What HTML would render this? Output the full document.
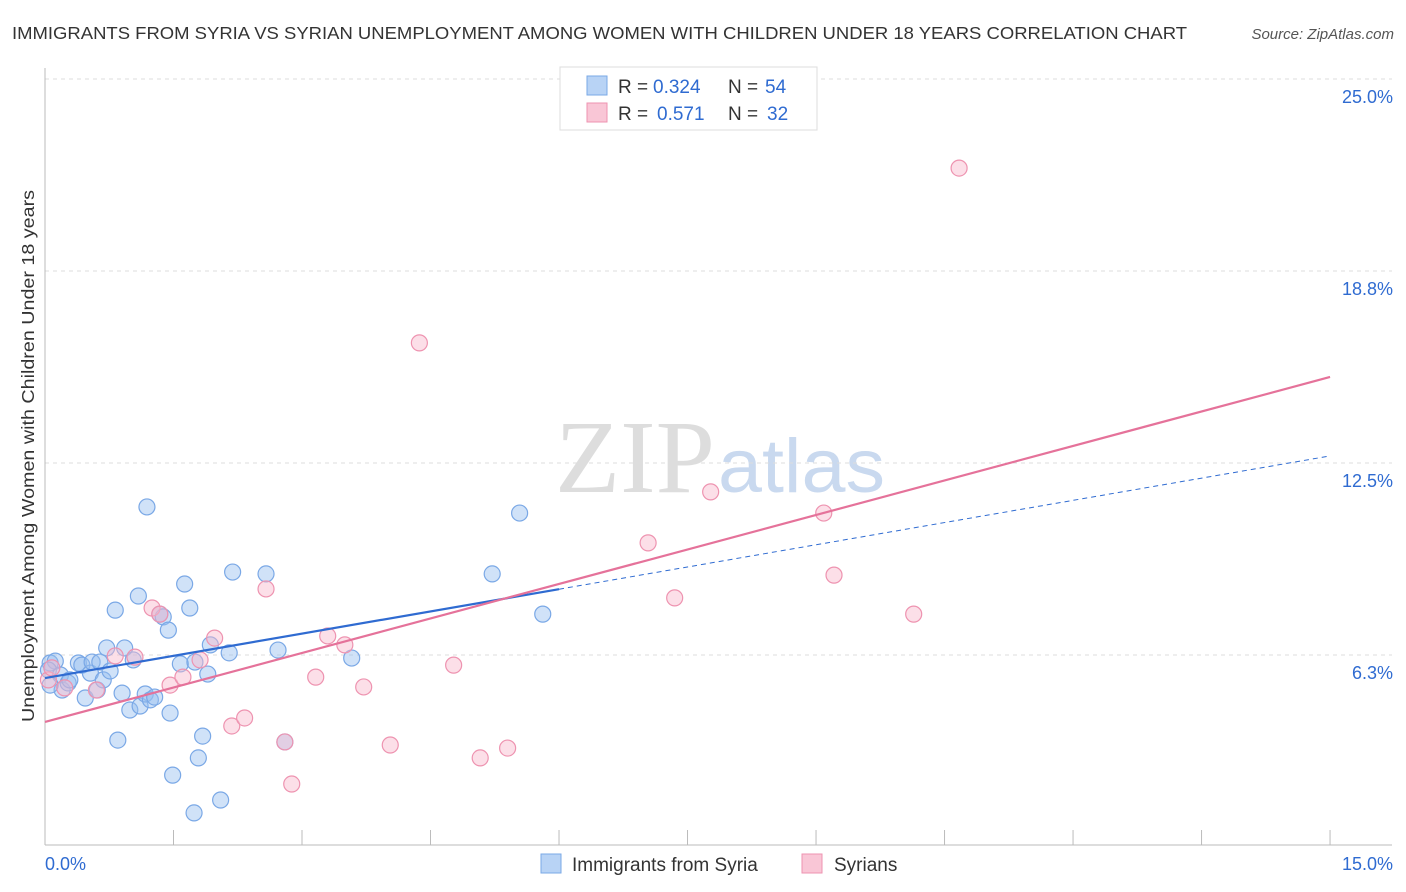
<!DOCTYPE html>
<html><head><meta charset="utf-8"><style>
body{margin:0;background:#fff;font-family:"Liberation Sans",sans-serif;}
svg{display:block}
</style></head><body>
<svg id="c" width="1406" height="892" xmlns="http://www.w3.org/2000/svg">
<text x="12" y="39" font-size="17.5" fill="#333" textLength="1175" lengthAdjust="spacingAndGlyphs">IMMIGRANTS FROM SYRIA VS SYRIAN UNEMPLOYMENT AMONG WOMEN WITH CHILDREN UNDER 18 YEARS CORRELATION CHART</text>
<text x="1394" y="39" font-size="15" fill="#555" text-anchor="end" font-style="italic">Source: ZipAtlas.com</text>
<text x="555" y="492" font-size="104" fill="#ddd" textLength="160" lengthAdjust="spacingAndGlyphs" font-family="Liberation Serif">ZIP</text>
<text x="718" y="492" font-size="76" fill="#c9d9ef" textLength="167" lengthAdjust="spacingAndGlyphs">atlas</text>
<g id="grid"></g><g id="marks"></g>
<text transform="translate(34,456) rotate(-90)" font-size="17.5" fill="#333" text-anchor="middle" textLength="532" lengthAdjust="spacingAndGlyphs">Unemployment Among Women with Children Under 18 years</text>
<g>
<rect x="560" y="67" width="257" height="63" fill="#fff" stroke="#ddd"/>
<rect x="587" y="76" width="20" height="19" fill="#b8d3f5" stroke="#7aa8e6"/>
<rect x="587" y="103" width="20" height="19" fill="#f9c6d6" stroke="#ee93b0"/>
<text x="618" y="93" font-size="19" fill="#333">R =</text>
<text x="653" y="93" font-size="19" fill="#2f6bd1">0.324</text>
<text x="728" y="93" font-size="19" fill="#333">N =</text>
<text x="765" y="93" font-size="19" fill="#2f6bd1">54</text>
<text x="618" y="120" font-size="19" fill="#333">R =</text>
<text x="657" y="120" font-size="19" fill="#2f6bd1">0.571</text>
<text x="728" y="120" font-size="19" fill="#333">N =</text>
<text x="767" y="120" font-size="19" fill="#2f6bd1">32</text>
</g>
<g>
<rect x="541" y="854" width="20" height="19" fill="#b8d3f5" stroke="#7aa8e6"/>
<text x="572" y="871" font-size="19" fill="#333">Immigrants from Syria</text>
<rect x="802" y="854" width="20" height="19" fill="#f9c6d6" stroke="#ee93b0"/>
<text x="834" y="871" font-size="19" fill="#333">Syrians</text>
</g>
</svg>
<script>
const blueX=[.06,.12,.04,.18,.20,.27,.29,.39,.43,.47,.53,.55,.61,.64,.68,.72,.76,.82,.85,.90,.93,.99,1.03,1.09,1.11,1.17,1.19,1.23,1.28,1.34,1.38,1.44,1.46,1.49,1.58,1.63,1.69,1.75,1.79,1.84,1.90,1.93,2.05,1.74,2.15,2.19,2.58,2.72,2.80,3.58,5.22,5.54,5.81,.06];
const blueY=[5.99,6.05,5.76,5.60,5.11,5.34,5.44,5.99,5.92,4.85,5.66,6.02,5.11,6.02,5.44,6.48,5.73,7.71,3.48,5.01,6.48,4.46,6.09,8.17,4.59,4.98,11.07,4.79,4.88,7.58,7.49,7.06,4.36,2.34,5.96,8.56,7.78,6.02,2.90,3.61,5.63,6.58,1.53,1.11,6.32,8.95,8.89,6.41,3.42,6.15,8.89,10.87,7.58,5.27];
const pinkX=[.04,.08,.23,.60,.82,1.05,1.25,1.34,1.46,1.61,1.81,1.98,2.18,2.33,2.58,2.80,2.88,3.16,3.30,3.50,3.72,4.03,4.37,4.77,5.08,5.40,7.04,7.35,7.77,9.09,9.21,10.14,10.67];
const pinkY=[5.44,5.83,5.18,5.11,6.22,6.18,7.78,7.58,5.27,5.53,6.09,6.80,3.94,4.20,8.40,3.42,2.05,5.53,6.87,6.58,5.21,3.32,16.41,5.92,2.90,3.22,9.90,8.11,11.56,10.87,8.85,7.58,22.10];
const blueLine=[5.50,12.73]; const blueSolidEnd=6.0;
const pinkLine=[4.07,15.30];
const yTicks=[6.25,12.5,18.75,25]; const yTickLabels=["6.3%","12.5%","18.8%","25.0%"];
const xTicks=[0,1.5,3,4.5,6,7.5,9,10.5,12,13.5,15];
const NS="http://www.w3.org/2000/svg";
const X=v=>45+v*85.67, Y=v=>655-(v-6.25)*30.72;
function mk(p,t,a){const e=document.createElementNS(NS,t);for(const k in a)e.setAttribute(k,a[k]);p.appendChild(e);return e;}
const g=document.getElementById('grid'),m=document.getElementById('marks');
yTicks.forEach((v,i)=>{
 const l=mk(g,'line',{x1:45,x2:1392,y1:Y(v),y2:Y(v),stroke:'#ddd','stroke-dasharray':'4,4'});
 
 
 const t=mk(g,'text',{x:1393,y:Y(v)+24,'font-size':18,fill:'#2f6bd1','text-anchor':'end'});t.textContent=yTickLabels[i];
 
 
});
const ax=mk(g,'line',{x1:45,x2:45,y1:68,y2:845,stroke:'#bbb'});


const bx=mk(g,'line',{x1:45,x2:1392,y1:845,y2:845,stroke:'#bbb'});


xTicks.forEach(v=>{const t=mk(g,'line',{x1:X(v),x2:X(v),y1:830,y2:845,stroke:'#bbb'});
 
 });
const xl0=mk(g,'text',{x:45,y:870,'font-size':18,fill:'#2f6bd1'});xl0.textContent='0.0%';


const xl1=mk(g,'text',{x:1393,y:870,'font-size':18,fill:'#2f6bd1','text-anchor':'end'});xl1.textContent='15.0%';


blueX.forEach((v,i)=>{const c=mk(m,'circle',{cx:X(v),cy:Y(blueY[i]),r:8,fill:'rgba(150,190,240,0.45)',stroke:'#7aa8e6','stroke-width':1.2});
 
 });
pinkX.forEach((v,i)=>{const c=mk(m,'circle',{cx:X(v),cy:Y(pinkY[i]),r:8,fill:'rgba(248,185,205,0.45)',stroke:'#ee93b0','stroke-width':1.2});
 
 });
const by=v=>blueLine[0]+(blueLine[1]-blueLine[0])*v/15, py=v=>pinkLine[0]+(pinkLine[1]-pinkLine[0])*v/15;
const bl=mk(m,'line',{x1:X(0),y1:Y(by(0)),x2:X(blueSolidEnd),y2:Y(by(blueSolidEnd)),stroke:'#2f6bd1','stroke-width':2.2});


const bd=mk(m,'line',{x1:X(blueSolidEnd),y1:Y(by(blueSolidEnd)),x2:X(15),y2:Y(by(15)),stroke:'#2f6bd1','stroke-width':1,'stroke-dasharray':'5,4'});


const pl=mk(m,'line',{x1:X(0),y1:Y(py(0)),x2:X(15),y2:Y(py(15)),stroke:'#e5729a','stroke-width':2.2});


</script>
</body></html>
